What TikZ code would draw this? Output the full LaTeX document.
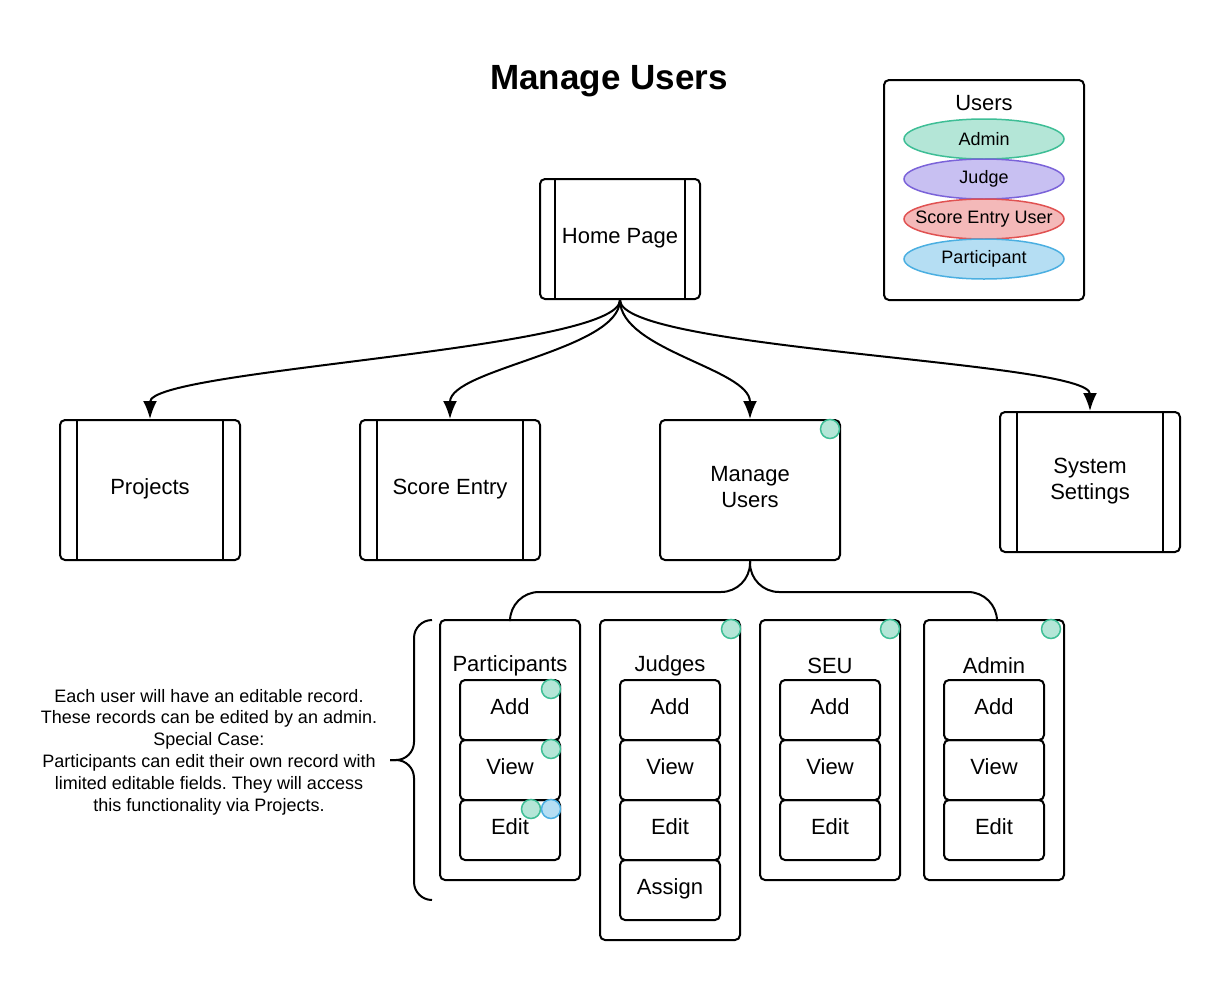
\documentclass[tikz,border=0pt]{standalone}
\usepackage{fontspec}
\setmainfont{Liberation Sans}
\usetikzlibrary{arrows.meta,shapes.geometric}
\frenchspacing

\definecolor{admfill}{HTML}{B4E6D7}
\definecolor{admline}{HTML}{3EBE96}
\definecolor{judfill}{HTML}{C8C0F2}
\definecolor{judline}{HTML}{7B63D9}
\definecolor{seufill}{HTML}{F4B9B9}
\definecolor{seuline}{HTML}{E05252}
\definecolor{parfill}{HTML}{B5DEF3}
\definecolor{parline}{HTML}{4BAFE1}

\tikzset{
  proc/.style={draw, line width=2pt, rounded corners=5pt, minimum width=180pt, minimum height=140pt, align=center, text depth=6pt, font=\fontsize{22}{26}\selectfont},
  grp/.style={draw, line width=2pt, rounded corners=5pt, minimum width=140pt},
  sub/.style={draw, line width=2pt, rounded corners=5pt, minimum width=100pt, minimum height=60pt, text depth=6pt, font=\fontsize{22}{26}\selectfont},
  lbl/.style={font=\fontsize{22}{26}\selectfont},
  role/.style={ellipse, draw, line width=1.5pt, minimum width=160pt, minimum height=40pt, inner ysep=0pt, inner xsep=-15pt, font=\fontsize{18}{22}\selectfont},
  udot/.style={circle, draw=admline, fill=admfill, line width=1.5pt, minimum size=19pt, inner sep=0pt},
  link/.style={line width=2pt, -{Latex[length=18pt,width=14pt]}},
}

\begin{document}
\begin{tikzpicture}[x=1pt,y=-1pt]
\useasboundingbox (0,0) rectangle (1220,980);

\node[font=\fontsize{35}{40}\selectfont\bfseries] (title) at (609,81) {Manage Users};

% legend
\node[draw, line width=2pt, rounded corners=5pt, minimum width=200pt, minimum height=220pt] (legend) at (984,190) {};
\node[lbl] (users) at (984,103) {Users};
\node[role, draw=admline, fill=admfill] (radmin) at (984,139) {Admin};
\node[role, draw=judline, fill=judfill] (rjudge) at (984,179) {Judge};
\node[role, draw=seuline, fill=seufill] (rseu) at (984,219) {Score Entry User};
\node[role, draw=parline, fill=parfill] (rpart) at (984,259) {Participant};

% pages
\node[proc, minimum width=160pt, minimum height=120pt] (home) at (620,239) {Home Page};
\node[proc] (proj) at (150,490) {Projects};
\node[proc] (score) at (450,490) {Score Entry};
\node[proc] (mu) at (750,490) {Manage\\Users};
\node[proc] (sys) at (1090,482) {System\\Settings};
\foreach \n/\d in {home/16,proj/18,score/18,sys/18}{
  \draw[line width=2pt] ([xshift=\d pt]\n.north west) -- ([xshift=\d pt]\n.south west);
  \draw[line width=2pt] ([xshift=-\d pt]\n.north east) -- ([xshift=-\d pt]\n.south east);
}

\draw[link] (home.south) .. controls +(0,50) and +(0,-50) .. (proj.north);
\draw[link] (home.south) .. controls +(0,50) and +(0,-50) .. (score.north);
\draw[link] (home.south) .. controls +(0,50) and +(0,-50) .. (mu.north);
\draw[link] (home.south) .. controls +(0,50) and +(0,-50) .. (sys.north);

% user groups
\node[grp, minimum height=260pt] (par) at (510,750) {};
\node[grp, minimum height=320pt] (jud) at (670,780) {};
\node[grp, minimum height=260pt] (seu) at (830,750) {};
\node[grp, minimum height=260pt] (adm) at (994,750) {};
\node[lbl] (parlbl) at (510,666) {Participants};
\node[lbl] (judlbl) at (670,666) {Judges};
\node[lbl] (seulbl) at (830,666) {SEU};
\node[lbl] (admlbl) at (994,666) {Admin};

\draw[line width=2pt, rounded corners=29pt] (par.north) |- ([yshift=-31pt]mu.south) -- (mu.south);
\draw[line width=2pt, rounded corners=29pt] ([xshift=3pt]adm.north) |- ([yshift=-31pt]mu.south) -- (mu.south);

\node[sub] (paradd) at (510,710) {Add};
\node[sub] (parview) at (510,770) {View};
\node[sub] (paredit) at (510,830) {Edit};
\node[sub] (judadd) at (670,710) {Add};
\node[sub] (judview) at (670,770) {View};
\node[sub] (judedit) at (670,830) {Edit};
\node[sub] (judassign) at (670,890) {Assign};
\node[sub] (seuadd) at (830,710) {Add};
\node[sub] (seuview) at (830,770) {View};
\node[sub] (seuedit) at (830,830) {Edit};
\node[sub] (admadd) at (994,710) {Add};
\node[sub] (admview) at (994,770) {View};
\node[sub] (admedit) at (994,830) {Edit};

% access dots
\node[udot] (mudot) at ([shift={(-11,10)}]mu.north east) {};
\node[udot] (juddot) at ([shift={(-10,10)}]jud.north east) {};
\node[udot] (seudot) at ([shift={(-11,10)}]seu.north east) {};
\node[udot] (admdot) at ([shift={(-14,10)}]adm.north east) {};
\node[udot] (adddot) at ([shift={(-10,10)}]paradd.north east) {};
\node[udot] (viewdot) at ([shift={(-10,10)}]parview.north east) {};
\node[udot] (editdot) at ([shift={(-30,10)}]paredit.north east) {};
\node[udot, draw=parline, fill=parfill] (editdotb) at ([shift={(-10,10)}]paredit.north east) {};

% note
\coordinate (btop) at (432,620);
\coordinate (bbot) at (432,900);
\coordinate (btip) at (390,760);
\draw[line width=2pt, rounded corners=18pt] (btop) -| ([xshift=24pt]btip) -- (btip);
\draw[line width=2pt, rounded corners=18pt] (bbot) -| ([xshift=24pt]btip) -- (btip);
\node[align=center, font=\fontsize{18}{21.8}\selectfont] (note) at (209,752) {Each user will have an editable record.\\These records can be edited by an admin.\\Special Case:\\Participants can edit their own record with\\limited editable fields. They will access\\this functionality via Projects.};
\end{tikzpicture}
\end{document}
